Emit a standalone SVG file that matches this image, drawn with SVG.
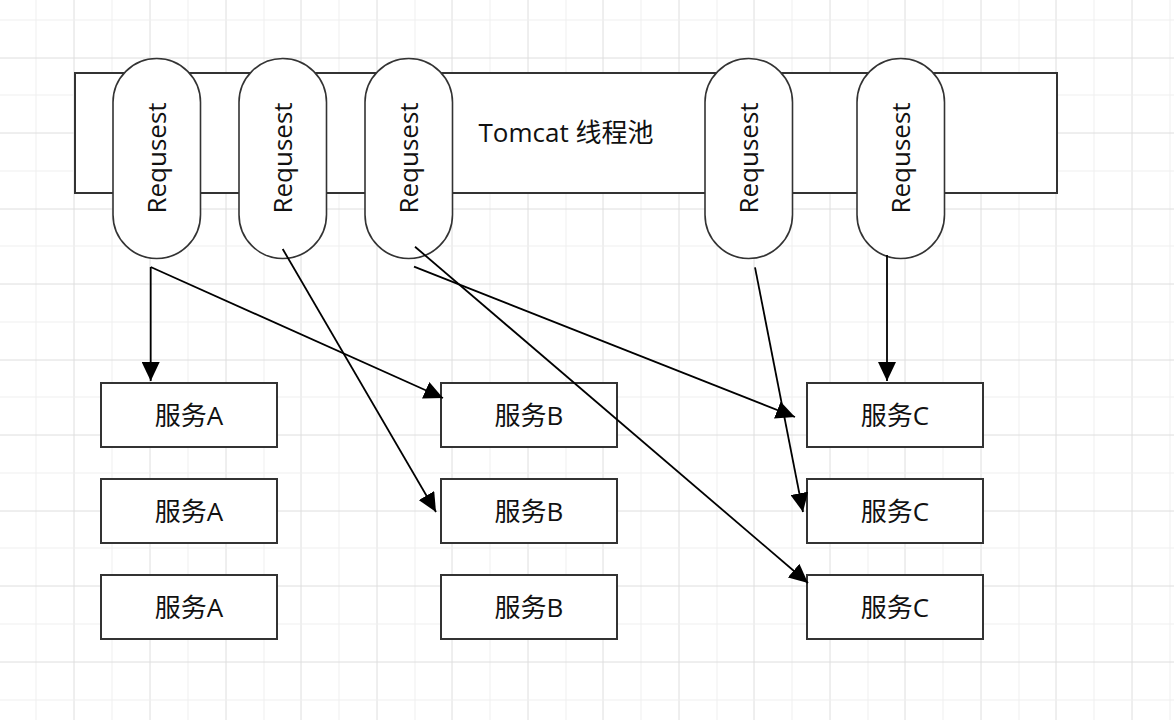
<svg xmlns="http://www.w3.org/2000/svg" width="1174" height="720" viewBox="0 0 1174 720">
<defs>
<style>
.gl{stroke:#efefef;stroke-width:1}
.gd{stroke:#dedede;stroke-width:1}
.frame{fill:#ffffff;stroke:#333333;stroke-width:2}
.pill{fill:#ffffff;stroke:#333333;stroke-width:1.6}
.box{fill:#ffffff;stroke:#333333;stroke-width:2}
.lbl{font-family:"Open Sans","Noto Sans CJK SC",sans-serif;font-size:26px;fill:#111111;text-anchor:middle}
.edge{fill:none;stroke:#000000;stroke-width:1.8;marker-end:url(#arr)}
</style>
<marker id="arr" markerUnits="userSpaceOnUse" markerWidth="19" markerHeight="18" refX="19" refY="9" orient="auto" viewBox="0 0 19 18">
<path d="M0,0 L19,9 L0,18 Z" fill="#000000"/>
</marker>
</defs>
<rect x="0" y="0" width="1174" height="720" fill="#ffffff"/>
<g id="grid">
<line class="gl" x1="36" y1="0" x2="36" y2="720"/>
<line class="gd" x1="74" y1="0" x2="74" y2="720"/>
<line class="gl" x1="112" y1="0" x2="112" y2="720"/>
<line class="gd" x1="150" y1="0" x2="150" y2="720"/>
<line class="gl" x1="188" y1="0" x2="188" y2="720"/>
<line class="gd" x1="226" y1="0" x2="226" y2="720"/>
<line class="gl" x1="264" y1="0" x2="264" y2="720"/>
<line class="gd" x1="301" y1="0" x2="301" y2="720"/>
<line class="gl" x1="339" y1="0" x2="339" y2="720"/>
<line class="gd" x1="377" y1="0" x2="377" y2="720"/>
<line class="gl" x1="415" y1="0" x2="415" y2="720"/>
<line class="gd" x1="452" y1="0" x2="452" y2="720"/>
<line class="gl" x1="490" y1="0" x2="490" y2="720"/>
<line class="gd" x1="528" y1="0" x2="528" y2="720"/>
<line class="gl" x1="566" y1="0" x2="566" y2="720"/>
<line class="gd" x1="603" y1="0" x2="603" y2="720"/>
<line class="gl" x1="641" y1="0" x2="641" y2="720"/>
<line class="gd" x1="679" y1="0" x2="679" y2="720"/>
<line class="gl" x1="717" y1="0" x2="717" y2="720"/>
<line class="gd" x1="754" y1="0" x2="754" y2="720"/>
<line class="gl" x1="792" y1="0" x2="792" y2="720"/>
<line class="gd" x1="830" y1="0" x2="830" y2="720"/>
<line class="gl" x1="868" y1="0" x2="868" y2="720"/>
<line class="gd" x1="905" y1="0" x2="905" y2="720"/>
<line class="gl" x1="943" y1="0" x2="943" y2="720"/>
<line class="gd" x1="981" y1="0" x2="981" y2="720"/>
<line class="gl" x1="1019" y1="0" x2="1019" y2="720"/>
<line class="gd" x1="1056" y1="0" x2="1056" y2="720"/>
<line class="gl" x1="1094" y1="0" x2="1094" y2="720"/>
<line class="gd" x1="1132" y1="0" x2="1132" y2="720"/>
<line class="gl" x1="1170" y1="0" x2="1170" y2="720"/>
<line class="gl" x1="0" y1="20" x2="1174" y2="20"/>
<line class="gd" x1="0" y1="58" x2="1174" y2="58"/>
<line class="gl" x1="0" y1="95" x2="1174" y2="95"/>
<line class="gd" x1="0" y1="133" x2="1174" y2="133"/>
<line class="gl" x1="0" y1="171" x2="1174" y2="171"/>
<line class="gd" x1="0" y1="209" x2="1174" y2="209"/>
<line class="gl" x1="0" y1="246" x2="1174" y2="246"/>
<line class="gd" x1="0" y1="284" x2="1174" y2="284"/>
<line class="gl" x1="0" y1="322" x2="1174" y2="322"/>
<line class="gd" x1="0" y1="360" x2="1174" y2="360"/>
<line class="gl" x1="0" y1="397" x2="1174" y2="397"/>
<line class="gd" x1="0" y1="435" x2="1174" y2="435"/>
<line class="gl" x1="0" y1="473" x2="1174" y2="473"/>
<line class="gd" x1="0" y1="511" x2="1174" y2="511"/>
<line class="gl" x1="0" y1="548" x2="1174" y2="548"/>
<line class="gd" x1="0" y1="586" x2="1174" y2="586"/>
<line class="gl" x1="0" y1="624" x2="1174" y2="624"/>
<line class="gd" x1="0" y1="662" x2="1174" y2="662"/>
<line class="gl" x1="0" y1="700" x2="1174" y2="700"/>
</g>
<g id="tomcat-pool">
<rect class="frame" x="75" y="73" width="982" height="120"/>
<text class="lbl" x="566" y="142">Tomcat 线程池</text>
</g>
<g id="req1"><rect class="pill" x="113" y="58.5" width="87.5" height="200" rx="43.75"/><text class="lbl" transform="translate(166,158) rotate(-90)" x="0" y="0">Requsest</text></g>
<g id="req2"><rect class="pill" x="239" y="58.5" width="87.5" height="200" rx="43.75"/><text class="lbl" transform="translate(292,158) rotate(-90)" x="0" y="0">Requsest</text></g>
<g id="req3"><rect class="pill" x="365" y="58.5" width="87.5" height="200" rx="43.75"/><text class="lbl" transform="translate(418,158) rotate(-90)" x="0" y="0">Requsest</text></g>
<g id="req4"><rect class="pill" x="705" y="58.5" width="87.5" height="200" rx="43.75"/><text class="lbl" transform="translate(758,158) rotate(-90)" x="0" y="0">Requsest</text></g>
<g id="req5"><rect class="pill" x="857" y="58.5" width="87.5" height="200" rx="43.75"/><text class="lbl" transform="translate(910,158) rotate(-90)" x="0" y="0">Requsest</text></g>
<g id="svcA1"><rect class="box" x="101" y="383" width="176" height="64"/><text class="lbl" x="189" y="425">服务A</text></g>
<g id="svcA2"><rect class="box" x="101" y="479" width="176" height="64"/><text class="lbl" x="189" y="521">服务A</text></g>
<g id="svcA3"><rect class="box" x="101" y="575" width="176" height="64"/><text class="lbl" x="189" y="617">服务A</text></g>
<g id="svcB1"><rect class="box" x="441" y="383" width="176" height="64"/><text class="lbl" x="529" y="425">服务B</text></g>
<g id="svcB2"><rect class="box" x="441" y="479" width="176" height="64"/><text class="lbl" x="529" y="521">服务B</text></g>
<g id="svcB3"><rect class="box" x="441" y="575" width="176" height="64"/><text class="lbl" x="529" y="617">服务B</text></g>
<g id="svcC1"><rect class="box" x="807" y="383" width="176" height="64"/><text class="lbl" x="895" y="425">服务C</text></g>
<g id="svcC2"><rect class="box" x="807" y="479" width="176" height="64"/><text class="lbl" x="895" y="521">服务C</text></g>
<g id="svcC3"><rect class="box" x="807" y="575" width="176" height="64"/><text class="lbl" x="895" y="617">服务C</text></g>
<g id="connectors">
<line class="edge" x1="150.7" y1="267" x2="150.7" y2="381"/>
<line class="edge" x1="150.7" y1="267" x2="443" y2="398"/>
<line class="edge" x1="282.7" y1="249" x2="436" y2="512"/>
<line class="edge" x1="415" y1="246.7" x2="808" y2="583"/>
<line class="edge" x1="414" y1="266.7" x2="795" y2="417"/>
<line class="edge" x1="755" y1="267.3" x2="803" y2="512"/>
<line class="edge" x1="887" y1="255" x2="887" y2="381"/>
</g>
</svg>
